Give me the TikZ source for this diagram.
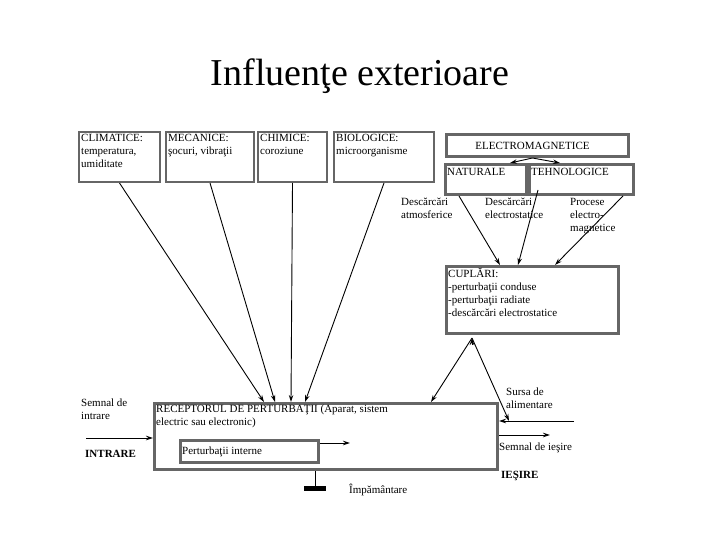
\documentclass[tikz,border=0pt]{standalone}
\usepackage{fontspec}
\setmainfont{Liberation Serif}
\usetikzlibrary{calc,arrows.meta}
\begin{document}
\begin{tikzpicture}[x=1pt,y=-1pt,
  gbox/.style={draw=gray!80!black,line width=2pt,inner sep=0pt,anchor=north west},
  tbox/.style={draw=gray!80!black,line width=3pt,inner sep=0pt,anchor=north west},
  lbl/.style={font=\fontsize{11}{13}\selectfont,align=left,inner sep=3pt,anchor=north west},
  arr/.style={-{Stealth[length=7pt,width=4.5pt]},line width=0.9pt},
  ln/.style={line width=0.9pt}]
\useasboundingbox (0,0) rectangle (720,540);
\node (title) at (360,76) {\fontsize{38}{42}\selectfont Influenţe exterioare};
% top boxes
\node[gbox,minimum width=81,minimum height=50] (clim) at (78,131) {};
\node[lbl] at (clim.north west) {CLIMATICE:\\temperatura,\\umiditate};
\node[gbox,minimum width=88,minimum height=50] (mec) at (165,131) {};
\node[lbl] at (mec.north west) {MECANICE:\\şocuri, vibraţii};
\node[gbox,minimum width=69,minimum height=50] (chim) at (257,131) {};
\node[lbl] at (chim.north west) {CHIMICE:\\coroziune};
\node[gbox,minimum width=100,minimum height=50] (bio) at (333,131) {};
\node[lbl] at (bio.north west) {BIOLOGICE:\\microorganisme};
\node[tbox,minimum width=182,minimum height=22] (em) at (445,133) {};
\node[lbl,anchor=center] at ($(em.center)+(-5,0)$) {ELECTROMAGNETICE};
\node[tbox,minimum width=81,minimum height=30] (nat) at (444,163) {};
\node[lbl] at ($(nat.north west)+(0,2)$) {NATURALE};
\node[tbox,minimum width=104,minimum height=30] (teh) at (528,163) {};
\node[lbl] at ($(teh.north west)+(0,2)$) {TEHNOLOGICE};
\node[lbl] (l1) at (398,195) {Descărcări\\atmosferice};
\node[lbl] (l2) at (482,195) {Descărcări\\electrostatice};
\node[lbl] (l3) at (567,195) {Procese\\electro-\\magnetice};
\node[tbox,minimum width=172,minimum height=67] (cup) at (445,265) {};
\node[lbl] at (cup.north west) {CUPLĂRI:\\-perturbaţii conduse\\-perturbaţii radiate\\-descărcări electrostatice};
% receptor
\node[tbox,minimum width=343,minimum height=66] (rec) at (153,402) {};
\node[lbl] at (rec.north west) {RECEPTORUL DE PERTURBAŢII (Aparat, sistem\\electric sau electronic)};
\node[tbox,minimum width=138,minimum height=22] (pi) at (179,439) {};
\node[lbl,anchor=west] at (pi.west) {Perturbaţii interne};
\node[lbl] (sin) at (78,396) {Semnal de\\intrare};
\node[lbl,font=\fontsize{11}{13}\selectfont\bfseries] (intr) at (82,447) {INTRARE};
\node[lbl] (sur) at (503,385) {Sursa de\\alimentare};
\node[lbl] (sie) at (496,440) {Semnal de ieşire};
\node[lbl,font=\fontsize{11}{13}\selectfont\bfseries] (ies) at (498,468) {IEŞIRE};
\node[lbl] (imp) at (346,481) {Împământare};
% connectors
\draw[arr] (clim.south) -- ($(rec.north west)+(111,0)$);
\draw[arr] (mec.south) -- ($(rec.north west)+(122,0)$);
\draw[arr] (chim.south) -- ($(rec.north west)+(138,0)$);
\draw[arr] (bio.south) -- ($(rec.north west)+(152,0)$);
\draw[arr] ($(em.south)+(-5,0)$) -- ($(nat.north east)+(-18,0)$);
\draw[arr] ($(em.south)+(-5,0)$) -- ($(teh.north west)+(32,0)$);
\draw[arr] ($(nat.south west)+(15,0)$) -- ($(cup.north west)+(55,0)$);
\draw[arr] ($(teh.north west)+(10,27)$) -- ($(cup.north west)+(73,0)$);
\draw[arr] ($(teh.south east)+(-12,0)$) -- ($(cup.north west)+(110,0)$);
\coordinate (apex) at ($(cup.south west)+(27,3)$);
\draw[arr] (apex) -- ($(rec.north west)+(278,0)$);
\draw[arr] (apex) -- (509,421);
\draw[arr] ($(cup.south west)+(27,10)$) -- (apex);
\coordinate (sfree) at (574,421);
\draw[arr] (sfree) -- ($(rec.north east)+(0,19)$);
\coordinate (ofree) at (550,435);
\draw[arr] ($(rec.north east)+(0,33)$) -- (ofree);
\coordinate (ifree) at (86,438);
\draw[arr] (ifree) -- (rec.west |- ifree);
\coordinate (pfree) at (350,443);
\draw[arr] (pi.east |- pfree) -- (pfree);
\coordinate (gnd) at (315,488);
\draw[ln] (rec.south -| gnd) -- (gnd);
\draw[line width=5pt] (304,488) -- (326,488);
\end{tikzpicture}
\end{document}
